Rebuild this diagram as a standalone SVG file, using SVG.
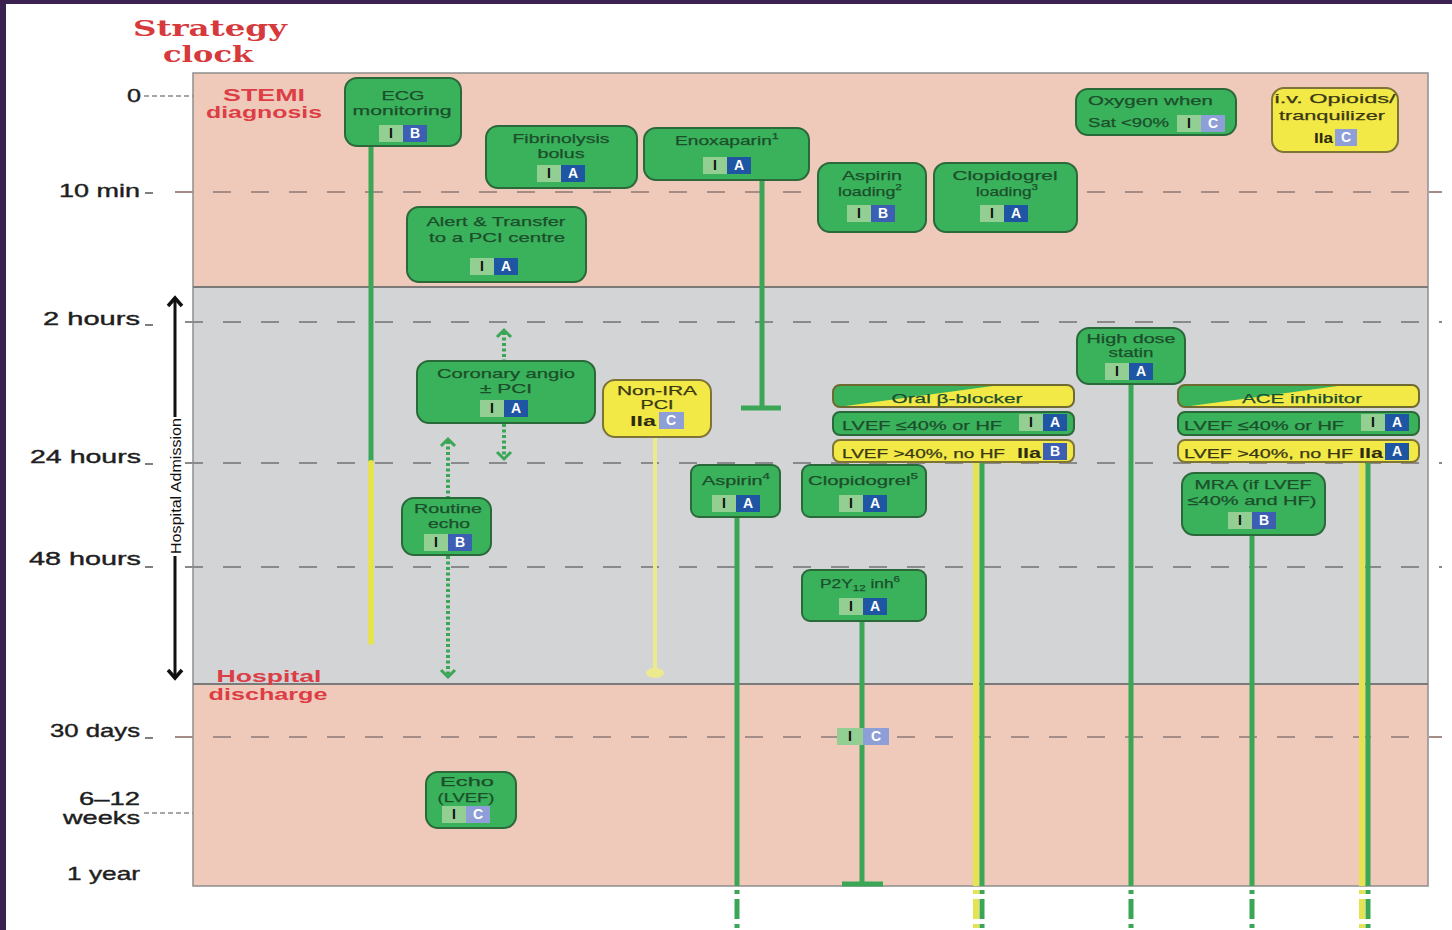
<svg xmlns="http://www.w3.org/2000/svg" width="1452" height="930" viewBox="0 0 1452 930">
<defs>
<style>
.g{fill:#39b25b;stroke:#2b683a;stroke-width:2}
.y{fill:#f3e946;stroke:#7d7436;stroke-width:2}
.t{font-family:"Liberation Sans",Arial,sans-serif;font-size:13.5px;fill:#1c4e2b;text-anchor:middle;stroke:#1c4e2b;stroke-width:0.25}
.ts{font-family:"Liberation Sans",Arial,sans-serif;font-size:13.5px;fill:#1c4e2b;text-anchor:start;stroke:#1c4e2b;stroke-width:0.25}
.ty{font-family:"Liberation Sans",Arial,sans-serif;font-size:13.5px;fill:#3a3814;text-anchor:middle;stroke:#3a3814;stroke-width:0.25}
.tys{font-family:"Liberation Sans",Arial,sans-serif;font-size:13.5px;fill:#3a3814;text-anchor:start;stroke:#3a3814;stroke-width:0.25}
.iia{font-family:"Liberation Sans",Arial,sans-serif;font-size:14px;font-weight:bold;fill:#2e2c10;text-anchor:end}
.ci{fill:#93cf93}
.cA{fill:#1f56a3}
.cB{fill:#3d5fb3}
.cC{fill:#8e9fd8}
.bi{font-family:"Liberation Sans",Arial,sans-serif;font-size:14px;font-weight:bold;fill:#111;text-anchor:middle}
.bl{font-family:"Liberation Sans",Arial,sans-serif;font-size:14px;font-weight:bold;fill:#fff;text-anchor:middle}
.tl{font-family:"Liberation Sans",Arial,sans-serif;font-size:19px;fill:#1e1e1e;text-anchor:end;stroke:#1e1e1e;stroke-width:0.4}
.red{font-family:"Liberation Sans",Arial,sans-serif;font-weight:bold;font-size:17px;fill:#dd3d45;text-anchor:middle}
.title{font-family:"DejaVu Serif","Liberation Serif",serif;font-weight:bold;font-size:23px;fill:#d63a3c;text-anchor:middle}
.dp{stroke:#a58c86;stroke-width:2;stroke-dasharray:18 20;fill:none}
.dg{stroke:#8a8a8c;stroke-width:2;stroke-dasharray:18 20;fill:none}
.sd{stroke:#8a8a8a;stroke-width:1.5;stroke-dasharray:5 3;fill:none}
.tg{stroke:#3aa656;stroke-width:5;fill:none}
.tyl{stroke:#e6e352;stroke-width:6;fill:none}
.dot{stroke:#3aa656;stroke-width:4;stroke-dasharray:3 2.5;fill:none}
.chev{stroke:#3aa656;stroke-width:3;fill:none}
.tick{stroke:#555;stroke-width:1.5}
</style>
<clipPath id="cpB"><rect x="833" y="385" width="241" height="22" rx="7"/></clipPath>
<clipPath id="cpA"><rect x="1178" y="385" width="241" height="22" rx="7"/></clipPath>
</defs>
<rect x="0" y="0" width="1452" height="930" fill="#ffffff"/>
<rect x="0" y="0" width="1452" height="4" fill="#3b2150"/>
<rect x="0" y="0" width="6" height="930" fill="#3b2150"/>

<g id="panel">
<rect x="193" y="73" width="1235" height="214" fill="#efc9ba"/>
<rect x="193" y="287" width="1235" height="397" fill="#d3d4d6"/>
<rect x="193" y="684" width="1235" height="202" fill="#efc9ba"/>
<rect x="193" y="73" width="1235" height="813" fill="none" stroke="#8e8e8e" stroke-width="1.5"/>
<line x1="193" y1="287" x2="1428" y2="287" stroke="#7a7a7a" stroke-width="2"/>
<line x1="193" y1="684" x2="1428" y2="684" stroke="#7a7a7a" stroke-width="2"/>
</g>

<g id="timescale">
<text class="title" x="210" y="36" textLength="154" lengthAdjust="spacingAndGlyphs">Strategy</text>
<text class="title" x="208" y="62" textLength="90" lengthAdjust="spacingAndGlyphs">clock</text>
<text class="tl" x="141" y="102" textLength="14" lengthAdjust="spacingAndGlyphs">0</text>
<line class="sd" x1="144" y1="96" x2="193" y2="96"/>
<text class="tl" x="140" y="197" textLength="81" lengthAdjust="spacingAndGlyphs">10 min</text>
<line class="tick" x1="145" y1="193" x2="153" y2="193"/>
<text class="tl" x="140" y="325" textLength="97" lengthAdjust="spacingAndGlyphs">2 hours</text>
<line class="tick" x1="145" y1="325" x2="153" y2="325"/>
<text class="tl" x="141" y="463" textLength="111" lengthAdjust="spacingAndGlyphs">24 hours</text>
<line class="tick" x1="145" y1="464" x2="153" y2="464"/>
<text class="tl" x="141" y="565" textLength="112" lengthAdjust="spacingAndGlyphs">48 hours</text>
<line class="tick" x1="145" y1="567" x2="153" y2="567"/>
<text class="tl" x="140" y="737" textLength="90" lengthAdjust="spacingAndGlyphs">30 days</text>
<line class="tick" x1="145" y1="738" x2="153" y2="738"/>
<text class="tl" x="140" y="805" textLength="61" lengthAdjust="spacingAndGlyphs" font-size="17">6–12</text>
<text class="tl" x="140" y="824" textLength="77" lengthAdjust="spacingAndGlyphs" font-size="17">weeks</text>
<line class="sd" x1="144" y1="813" x2="193" y2="813"/>
<text class="tl" x="140" y="880" textLength="73" lengthAdjust="spacingAndGlyphs">1 year</text>
<line class="dp" x1="175" y1="192" x2="1442" y2="192"/>
<line class="dg" x1="185" y1="322" x2="1442" y2="322"/>
<line class="dg" x1="185" y1="463" x2="1442" y2="463"/>
<line class="dg" x1="185" y1="567" x2="1442" y2="567"/>
<line class="dp" x1="175" y1="737" x2="1442" y2="737"/>
<text class="red" x="264" y="101" textLength="82" lengthAdjust="spacingAndGlyphs">STEMI</text>
<text class="red" x="264" y="118" textLength="116" lengthAdjust="spacingAndGlyphs">diagnosis</text>
<text class="red" x="269" y="682" textLength="105" lengthAdjust="spacingAndGlyphs">Hospital</text>
<text class="red" x="268" y="700" textLength="119" lengthAdjust="spacingAndGlyphs">discharge</text>
</g>

<g id="hospital-admission">
<line x1="175" y1="299" x2="175" y2="417" stroke="#111" stroke-width="3"/>
<line x1="175" y1="556" x2="175" y2="677" stroke="#111" stroke-width="3"/>
<polyline points="168,306 175,298 182,306" fill="none" stroke="#111" stroke-width="3.5"/>
<polyline points="168,670 175,678 182,670" fill="none" stroke="#111" stroke-width="3.5"/>
<text transform="translate(181,486) rotate(-90)" x="0" y="0" font-family="Liberation Sans, Arial, sans-serif" font-size="15" fill="#111" text-anchor="middle" textLength="136" lengthAdjust="spacingAndGlyphs">Hospital Admission</text>
</g>

<g id="connectors">
<line class="tg" x1="371" y1="146" x2="371" y2="463"/>
<line class="tyl" x1="371" y1="463" x2="371" y2="642" stroke-linecap="round"/>
<line class="tg" x1="762" y1="180" x2="762" y2="408"/>
<line class="tg" x1="741" y1="408" x2="781" y2="408"/>
<line x1="655" y1="437" x2="655" y2="671" stroke="#ece98f" stroke-width="4"/>
<ellipse cx="655" cy="673" rx="9" ry="5" fill="#ece98f"/>
<line class="dot" x1="504" y1="332" x2="504" y2="360"/>
<polyline class="chev" points="497,337 504,330 511,337"/>
<line class="dot" x1="504" y1="424" x2="504" y2="457"/>
<polyline class="chev" points="497,452 504,459 511,452"/>
<line class="dot" x1="448" y1="441" x2="448" y2="497"/>
<polyline class="chev" points="441,446 448,439 455,446"/>
<line class="dot" x1="448" y1="556" x2="448" y2="675"/>
<polyline class="chev" points="441,670 448,677 455,670"/>
<line class="tg" x1="737" y1="517" x2="737" y2="886"/>
<line class="tg" x1="862" y1="621" x2="862" y2="884"/>
<line class="tg" x1="842" y1="884" x2="883" y2="884"/>
<line class="tyl" x1="976" y1="462" x2="976" y2="886"/>
<line class="tg" x1="982" y1="462" x2="982" y2="886"/>
<line class="tg" x1="1131" y1="384" x2="1131" y2="886"/>
<line class="tg" x1="1252" y1="535" x2="1252" y2="886"/>
<line class="tyl" x1="1362" y1="462" x2="1362" y2="886"/>
<line class="tg" x1="1368" y1="462" x2="1368" y2="886"/>
<g stroke-dasharray="4 5 20 5 4 100">
<line class="tyl" x1="976" y1="890" x2="976" y2="930"/>
<line class="tyl" x1="1362" y1="890" x2="1362" y2="930"/>
<line class="tg" x1="737" y1="890" x2="737" y2="930"/>
<line class="tg" x1="982" y1="890" x2="982" y2="930"/>
<line class="tg" x1="1131" y1="890" x2="1131" y2="930"/>
<line class="tg" x1="1252" y1="890" x2="1252" y2="930"/>
<line class="tg" x1="1368" y1="890" x2="1368" y2="930"/>
</g>
</g>

<g id="ecg-monitoring">
<rect class="g" x="345" y="78" width="116" height="68" rx="12"/>
<text class="t" x="403" y="100" textLength="43" lengthAdjust="spacingAndGlyphs">ECG</text>
<text class="t" x="402" y="115" textLength="99" lengthAdjust="spacingAndGlyphs">monitoring</text>
<rect class="ci" x="379" y="125" width="24" height="17"/><text class="bi" x="391" y="138">I</text>
<rect class="cB" x="403" y="125" width="24" height="17"/><text class="bl" x="415" y="138">B</text>
</g>

<g id="fibrinolysis">
<rect class="g" x="486" y="126" width="151" height="62" rx="12"/>
<text class="t" x="561" y="143" textLength="97" lengthAdjust="spacingAndGlyphs">Fibrinolysis</text>
<text class="t" x="561" y="158" textLength="47" lengthAdjust="spacingAndGlyphs">bolus</text>
<rect class="ci" x="537" y="165" width="24" height="17"/><text class="bi" x="549" y="178">I</text>
<rect class="cA" x="561" y="165" width="24" height="17"/><text class="bl" x="573" y="178">A</text>
</g>

<g id="enoxaparin">
<rect class="g" x="644" y="128" width="165" height="52" rx="12"/>
<text class="t" x="727" y="145" textLength="104" lengthAdjust="spacingAndGlyphs">Enoxaparin<tspan font-size="9" dy="-6">1</tspan></text>
<rect class="ci" x="703" y="157" width="24" height="17"/><text class="bi" x="715" y="170">I</text>
<rect class="cA" x="727" y="157" width="24" height="17"/><text class="bl" x="739" y="170">A</text>
</g>

<g id="aspirin-loading">
<rect class="g" x="818" y="163" width="108" height="69" rx="12"/>
<text class="t" x="872" y="180" textLength="60" lengthAdjust="spacingAndGlyphs">Aspirin</text>
<text class="t" x="870" y="196" textLength="64" lengthAdjust="spacingAndGlyphs">loading<tspan font-size="9" dy="-6">2</tspan></text>
<rect class="ci" x="847" y="205" width="24" height="17"/><text class="bi" x="859" y="218">I</text>
<rect class="cB" x="871" y="205" width="24" height="17"/><text class="bl" x="883" y="218">B</text>
</g>

<g id="clopidogrel-loading">
<rect class="g" x="934" y="163" width="143" height="69" rx="12"/>
<text class="t" x="1005" y="180" textLength="105" lengthAdjust="spacingAndGlyphs">Clopidogrel</text>
<text class="t" x="1007" y="196" textLength="62" lengthAdjust="spacingAndGlyphs">loading<tspan font-size="9" dy="-6">3</tspan></text>
<rect class="ci" x="980" y="205" width="24" height="17"/><text class="bi" x="992" y="218">I</text>
<rect class="cA" x="1004" y="205" width="24" height="17"/><text class="bl" x="1016" y="218">A</text>
</g>

<g id="oxygen">
<rect class="g" x="1076" y="89" width="160" height="46" rx="12"/>
<text class="ts" x="1088" y="105" textLength="125" lengthAdjust="spacingAndGlyphs">Oxygen when</text>
<text class="ts" x="1088" y="127" textLength="81" lengthAdjust="spacingAndGlyphs">Sat &lt;90%</text>
<rect class="ci" x="1177" y="115" width="24" height="17"/><text class="bi" x="1189" y="128">I</text>
<rect class="cC" x="1201" y="115" width="24" height="17"/><text class="bl" x="1213" y="128">C</text>
</g>

<g id="opioids">
<rect class="y" x="1272" y="88" width="126" height="64" rx="12"/>
<text class="ty" x="1335" y="103" textLength="121" lengthAdjust="spacingAndGlyphs">i.v. Opioids/</text>
<text class="ty" x="1332" y="120" textLength="106" lengthAdjust="spacingAndGlyphs">tranquilizer</text>
<text class="iia" x="1333" y="143" textLength="19" lengthAdjust="spacingAndGlyphs">IIa</text>
<rect class="cC" x="1335" y="129" width="22" height="17"/><text class="bl" x="1346" y="142">C</text>
</g>

<g id="alert-transfer">
<rect class="g" x="407" y="207" width="179" height="75" rx="12"/>
<text class="t" x="496" y="226" textLength="139" lengthAdjust="spacingAndGlyphs">Alert &amp; Transfer</text>
<text class="t" x="497" y="242" textLength="136" lengthAdjust="spacingAndGlyphs">to a PCI centre</text>
<rect class="ci" x="470" y="258" width="24" height="17"/><text class="bi" x="482" y="271">I</text>
<rect class="cA" x="494" y="258" width="24" height="17"/><text class="bl" x="506" y="271">A</text>
</g>

<g id="coronary-angio">
<rect class="g" x="417" y="361" width="178" height="62" rx="12"/>
<text class="t" x="506" y="378" textLength="138" lengthAdjust="spacingAndGlyphs">Coronary angio</text>
<text class="t" x="506" y="393" textLength="52" lengthAdjust="spacingAndGlyphs">± PCI</text>
<rect class="ci" x="480" y="400" width="24" height="17"/><text class="bi" x="492" y="413">I</text>
<rect class="cA" x="504" y="400" width="24" height="17"/><text class="bl" x="516" y="413">A</text>
</g>

<g id="non-ira-pci">
<rect class="y" x="603" y="380" width="108" height="57" rx="12"/>
<text class="ty" x="657" y="395" textLength="80" lengthAdjust="spacingAndGlyphs">Non-IRA</text>
<text class="ty" x="657" y="409" textLength="33" lengthAdjust="spacingAndGlyphs">PCI</text>
<text class="iia" x="656" y="426" textLength="26" lengthAdjust="spacingAndGlyphs">IIa</text>
<rect class="cC" x="659" y="412" width="25" height="17"/><text class="bl" x="671" y="425">C</text>
</g>

<g id="high-dose-statin">
<rect class="g" x="1077" y="328" width="108" height="56" rx="12"/>
<text class="t" x="1131" y="343" textLength="89" lengthAdjust="spacingAndGlyphs">High dose</text>
<text class="t" x="1131" y="357" textLength="45" lengthAdjust="spacingAndGlyphs">statin</text>
<rect class="ci" x="1105" y="363" width="24" height="17"/><text class="bi" x="1117" y="376">I</text>
<rect class="cA" x="1129" y="363" width="24" height="17"/><text class="bl" x="1141" y="376">A</text>
</g>

<g id="beta-blocker">
<rect x="833" y="385" width="241" height="22" rx="7" fill="#f3e946"/>
<polygon clip-path="url(#cpB)" points="833,385 1000,385 838,407 833,407" fill="#39b25b"/>
<rect x="833" y="385" width="241" height="22" rx="7" fill="none" stroke="#6f6a30" stroke-width="2"/>
<text class="t" x="957" y="403" textLength="131" lengthAdjust="spacingAndGlyphs">Oral β-blocker</text>
<rect class="g" x="833" y="412" width="241" height="23" rx="7"/>
<text class="ts" x="842" y="430" textLength="160" lengthAdjust="spacingAndGlyphs">LVEF ≤40% or HF</text>
<rect class="ci" x="1019" y="414" width="24" height="17"/><text class="bi" x="1031" y="427">I</text>
<rect class="cA" x="1043" y="414" width="24" height="17"/><text class="bl" x="1055" y="427">A</text>
<rect class="y" x="833" y="440" width="241" height="22" rx="7"/>
<text class="tys" x="842" y="458" textLength="163" lengthAdjust="spacingAndGlyphs">LVEF &gt;40%, no HF</text>
<text class="iia" x="1041" y="458" textLength="24" lengthAdjust="spacingAndGlyphs">IIa</text>
<rect class="cB" x="1043" y="443" width="24" height="17"/><text class="bl" x="1055" y="456">B</text>
</g>

<g id="ace-inhibitor">
<rect x="1178" y="385" width="241" height="22" rx="7" fill="#f3e946"/>
<polygon clip-path="url(#cpA)" points="1178,385 1345,385 1183,407 1178,407" fill="#39b25b"/>
<rect x="1178" y="385" width="241" height="22" rx="7" fill="none" stroke="#6f6a30" stroke-width="2"/>
<text class="t" x="1302" y="403" textLength="120" lengthAdjust="spacingAndGlyphs">ACE inhibitor</text>
<rect class="g" x="1178" y="412" width="241" height="23" rx="7"/>
<text class="ts" x="1184" y="430" textLength="160" lengthAdjust="spacingAndGlyphs">LVEF ≤40% or HF</text>
<rect class="ci" x="1361" y="414" width="24" height="17"/><text class="bi" x="1373" y="427">I</text>
<rect class="cA" x="1385" y="414" width="24" height="17"/><text class="bl" x="1397" y="427">A</text>
<rect class="y" x="1178" y="440" width="241" height="22" rx="7"/>
<text class="tys" x="1184" y="458" textLength="169" lengthAdjust="spacingAndGlyphs">LVEF &gt;40%, no HF</text>
<text class="iia" x="1383" y="458" textLength="24" lengthAdjust="spacingAndGlyphs">IIa</text>
<rect class="cA" x="1385" y="443" width="24" height="17"/><text class="bl" x="1397" y="456">A</text>
</g>

<g id="aspirin">
<rect class="g" x="691" y="465" width="89" height="52" rx="8"/>
<text class="t" x="736" y="485" textLength="68" lengthAdjust="spacingAndGlyphs">Aspirin<tspan font-size="9" dy="-6">4</tspan></text>
<rect class="ci" x="712" y="495" width="24" height="17"/><text class="bi" x="724" y="508">I</text>
<rect class="cA" x="736" y="495" width="24" height="17"/><text class="bl" x="748" y="508">A</text>
</g>

<g id="clopidogrel">
<rect class="g" x="802" y="465" width="124" height="52" rx="8"/>
<text class="t" x="863" y="485" textLength="110" lengthAdjust="spacingAndGlyphs">Clopidogrel<tspan font-size="9" dy="-6">5</tspan></text>
<rect class="ci" x="839" y="495" width="24" height="17"/><text class="bi" x="851" y="508">I</text>
<rect class="cA" x="863" y="495" width="24" height="17"/><text class="bl" x="875" y="508">A</text>
</g>

<g id="routine-echo">
<rect class="g" x="402" y="498" width="89" height="57" rx="12"/>
<text class="t" x="448" y="513" textLength="68" lengthAdjust="spacingAndGlyphs">Routine</text>
<text class="t" x="449" y="528" textLength="42" lengthAdjust="spacingAndGlyphs">echo</text>
<rect class="ci" x="424" y="534" width="24" height="17"/><text class="bi" x="436" y="547">I</text>
<rect class="cB" x="448" y="534" width="24" height="17"/><text class="bl" x="460" y="547">B</text>
</g>

<g id="mra">
<rect class="g" x="1182" y="473" width="143" height="62" rx="12"/>
<text class="t" x="1253" y="489" textLength="117" lengthAdjust="spacingAndGlyphs">MRA (if LVEF</text>
<text class="t" x="1252" y="505" textLength="129" lengthAdjust="spacingAndGlyphs">≤40% and HF)</text>
<rect class="ci" x="1228" y="512" width="24" height="17"/><text class="bi" x="1240" y="525">I</text>
<rect class="cB" x="1252" y="512" width="24" height="17"/><text class="bl" x="1264" y="525">B</text>
</g>

<g id="p2y12">
<rect class="g" x="802" y="570" width="124" height="51" rx="8"/>
<text class="t" x="860" y="588" textLength="80" lengthAdjust="spacingAndGlyphs">P2Y<tspan font-size="9" dy="3">12</tspan><tspan dy="-3"> inh</tspan><tspan font-size="9" dy="-6">6</tspan></text>
<rect class="ci" x="839" y="598" width="24" height="17"/><text class="bi" x="851" y="611">I</text>
<rect class="cA" x="863" y="598" width="24" height="17"/><text class="bl" x="875" y="611">A</text>
</g>

<g id="p2y12-30days">
<rect class="ci" x="837" y="728" width="26" height="17"/><text class="bi" x="850" y="741">I</text>
<rect class="cC" x="863" y="728" width="26" height="17"/><text class="bl" x="876" y="741">C</text>
</g>

<g id="echo-lvef">
<rect class="g" x="426" y="772" width="90" height="56" rx="12"/>
<text class="t" x="467" y="786" textLength="54" lengthAdjust="spacingAndGlyphs">Echo</text>
<text class="t" x="466" y="802" textLength="57" lengthAdjust="spacingAndGlyphs">(LVEF)</text>
<rect class="ci" x="442" y="806" width="24" height="17"/><text class="bi" x="454" y="819">I</text>
<rect class="cC" x="466" y="806" width="24" height="17"/><text class="bl" x="478" y="819">C</text>
</g>
</svg>
